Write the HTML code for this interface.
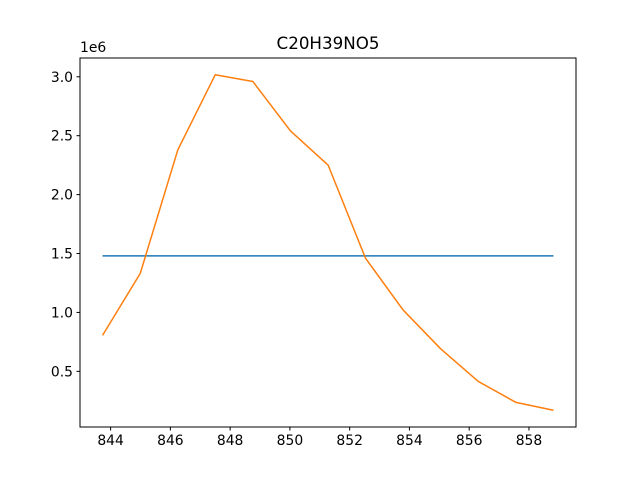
<!DOCTYPE html>
<html><head><meta charset="utf-8"><style>
body{margin:0;background:#fff;font-family:"Liberation Sans","DejaVu Sans",sans-serif;}
svg text{font-family:"DejaVu Sans","Liberation Sans",sans-serif;}
</style></head><body>
<svg id="chart" width="640" height="480" xmlns="http://www.w3.org/2000/svg">
<rect width="640" height="480" fill="#fff"/>
<text x="328" y="49" font-size="16.7" text-anchor="middle">C20H39NO5</text>
<g id="plot"></g>
<rect x="80" y="58" width="496" height="369" fill="none" stroke="#000" stroke-width="1"/>
<text x="80" y="52" font-size="13.9">1e6</text>
</svg>
<script>
const xValues=[843.73,844.99,846.25,847.5,848.76,850.02,851.28,852.53,853.79,855.05,856.3,857.56,858.82];
const intensity=[0.805,1.33,2.38,3.017,2.96,2.54,2.25,1.46,1.02,0.69,0.415,0.237,0.17];
const meanLevel=[1.48,1.48];
const xTicks=[844,846,848,850,852,854,856,858];
const yTicks=[0.5,1.0,1.5,2.0,2.5,3.0];
const yTickLabels=["0.5","1.0","1.5","2.0","2.5","3.0"];

const L=80,R=576,T=58,B=427;
const xmin=Math.min(...xValues),xmax=Math.max(...xValues);
const allY=intensity.concat(meanLevel);
const ymin=Math.min(...allY),ymax=Math.max(...allY);
const xm=(xmax-xmin)*0.05,ym=(ymax-ymin)*0.05;
const xs=v=>L+(v-(xmin-xm))/((xmax+xm)-(xmin-xm))*(R-L);
const ys=v=>B-(v-(ymin-ym))/((ymax+ym)-(ymin-ym))*(B-T);
const NS="http://www.w3.org/2000/svg";
const g=document.getElementById('plot');
function mk(t,a){const e=document.createElementNS(NS,t);for(const k in a)e.setAttribute(k,a[k]);g.appendChild(e);return e;}
xTicks.forEach(v=>{
  const x=xs(v);
  const t=mk('line',{x1:x,x2:x,y1:B,y2:B+3.5,stroke:'#000'});
  
  
  const l=mk('text',{x:x,y:B+18,'font-size':13.9,'text-anchor':'middle'});l.textContent=v;
  
  
});
yTicks.forEach((v,i)=>{
  const y=ys(v);
  const t=mk('line',{x1:L-3.5,x2:L,y1:y,y2:y,stroke:'#000'});
  
  
  const l=mk('text',{x:L-7,y:y+5,'font-size':13.9,'text-anchor':'end'});l.textContent=yTickLabels[i];
  
  
});
const mean=mk('polyline',{points:[xmin,xmax].map((x,i)=>xs(x)+','+ys(meanLevel[i])).join(' '),fill:'none',stroke:'#1f77b4','stroke-width':1.5});


const ser=mk('polyline',{points:xValues.map((x,i)=>xs(x)+','+ys(intensity[i])).join(' '),fill:'none',stroke:'#ff7f0e','stroke-width':1.5,'stroke-linejoin':'round'});


</script>
</body></html>
